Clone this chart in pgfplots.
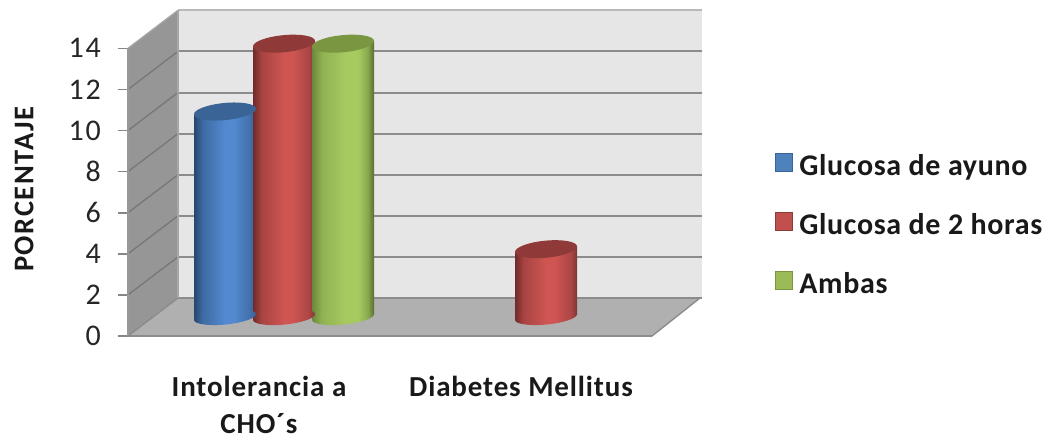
\documentclass[border=0pt]{standalone}
\usepackage{fontspec}
\setmainfont{Carlito}[BoldFont=Carlito Bold]
\usepackage{pgfplots}
\pgfplotsset{compat=1.18}

% Cylinder surfaces: the stops between 25bp and 75bp span the path's width
\definecolor{bA}{RGB}{39,70,110}\definecolor{bB}{RGB}{62,107,163}\definecolor{bC}{RGB}{82,137,208}\definecolor{bD}{RGB}{66,112,170}\definecolor{bE}{RGB}{56,96,146}
\definecolor{rA}{RGB}{112,42,42}\definecolor{rB}{RGB}{168,68,66}\definecolor{rC}{RGB}{206,85,82}\definecolor{rD}{RGB}{170,70,68}\definecolor{rE}{RGB}{128,52,50}
\definecolor{gA}{RGB}{108,134,60}\definecolor{gB}{RGB}{144,178,82}\definecolor{gC}{RGB}{166,202,96}\definecolor{gD}{RGB}{136,168,76}\definecolor{gE}{RGB}{88,110,48}
\pgfdeclarehorizontalshading{cylblue}{100bp}{color(0bp)=(bA);color(25bp)=(bA);color(32bp)=(bB);color(50bp)=(bC);color(57bp)=(bC);color(70bp)=(bD);color(75bp)=(bE);color(100bp)=(bE)}
\pgfdeclarehorizontalshading{cylred}{100bp}{color(0bp)=(rA);color(25bp)=(rA);color(32bp)=(rB);color(50bp)=(rC);color(57bp)=(rC);color(70bp)=(rD);color(75bp)=(rE);color(100bp)=(rE)}
\pgfdeclarehorizontalshading{cylgreen}{100bp}{color(0bp)=(gA);color(25bp)=(gA);color(33bp)=(gB);color(52bp)=(gC);color(62bp)=(gC);color(70bp)=(gD);color(75bp)=(gE);color(100bp)=(gE)}

\definecolor{capblue}{RGB}{58,100,149}
\definecolor{capred}{RGB}{143,58,56}
\definecolor{capgreen}{RGB}{122,150,65}
\definecolor{keyblue}{RGB}{79,129,189}
\definecolor{keyred}{RGB}{192,80,77}
\definecolor{keygreen}{RGB}{155,187,89}
\definecolor{wallback}{RGB}{230,230,230}
\definecolor{wallside}{RGB}{150,150,150}
\definecolor{floorgray}{RGB}{176,176,176}
\definecolor{gridgray}{RGB}{140,140,140}
\definecolor{tickgray}{RGB}{135,135,135}

% Tilted end caps of the cylinders
\pgfdeclareplotmark{captop}{\pgfpathellipse{\pgfpointorigin}{\pgfqpoint{31pt}{3pt}}{\pgfqpoint{-0.9pt}{8.5pt}}\pgfusepathqfill}
\pgfdeclareplotmark{capblue}{\pgfpathellipse{\pgfpointorigin}{\pgfqpoint{31pt}{3pt}}{\pgfqpoint{-0.7pt}{7.5pt}}\pgfshadepath{cylblue}{0}\pgfusepath{discard}}
\pgfdeclareplotmark{capred}{\pgfpathellipse{\pgfpointorigin}{\pgfqpoint{31pt}{3pt}}{\pgfqpoint{-0.7pt}{7.5pt}}\pgfshadepath{cylred}{0}\pgfusepath{discard}}
\pgfdeclareplotmark{capgreen}{\pgfpathellipse{\pgfpointorigin}{\pgfqpoint{31pt}{3pt}}{\pgfqpoint{-0.7pt}{7.5pt}}\pgfshadepath{cylgreen}{0}\pgfusepath{discard}}

% #1 colour, #2 category, #3 value, #4 sideways offset inside the group
\newcommand{\cylinderbar}[4]{%
  \addplot[only marks, mark=cap#1, xshift={25pt+#4}, yshift=19pt, forget plot]
    coordinates {(#2,0)};
  \addplot[ybar, bar width=62pt, bar shift=0pt, draw=none, shading=cyl#1,
    xshift={25pt+#4}, yshift={(19-0.085*(#2-0.5)*262)*1pt}, yslant=0.085, forget plot]
    coordinates {(#2,#3)};
  \addplot[only marks, mark=captop, mark options={fill=cap#1, draw=none},
    xshift={25pt+#4}, yshift=19pt, forget plot]
    coordinates {(#2,#3)};
}

\begin{document}
\begin{tikzpicture}
\useasboundingbox (-128pt,-104pt) rectangle (920pt,336pt);
\begin{axis}[
  scale only axis, width=524pt, height=287.7pt,
  xmin=0.5, xmax=2.5, ymin=0, ymax=14,
  clip=false,
  axis line style={draw=none},
  ytick={0,2,...,14}, ytick pos=left,
  xtick={1,2},
  xticklabels={{Intolerancia a\\[5pt]CHO´s},{Diabetes Mellitus}},
  xtick style={draw=none},
  ytick style={draw=tickgray, line width=1.6pt},
  tick align=outside, major tick length=10pt,
  /pgf/number format/assume math mode=true,
  yticklabel style={font=\fontsize{30}{30}\selectfont\addfontfeature{LetterSpace=6}, text=black!85, inner sep=0pt, xshift=-17pt},
  xticklabel style={font=\bfseries\fontsize{29}{32}\selectfont\addfontfeature{LetterSpace=3}, text=black!90, align=center, yshift=-30pt, inner sep=0pt},
  ylabel={PORCENTAJE},
  ylabel style={font=\bfseries\fontsize{28.5}{28.5}\selectfont\addfontfeature{LetterSpace=5.5}, text=black!90, at={(axis description cs:-0.198,0.51)}, anchor=center, inner sep=0pt},
  legend cell align=left,
  legend style={at={(rel axis cs:1.2347,0.382)}, anchor=west, draw=none, fill=none, inner sep=0pt,
    font=\bfseries\fontsize{30}{30}\selectfont\addfontfeature{LetterSpace=2.2}, text=black!90, row sep=30.5pt,
    /tikz/every odd column/.append style={column sep=6pt},
    nodes={inner sep=0pt, text height=20pt, text depth=6pt}},
  legend image code/.code={\draw[#1, line width=1.2pt] (0pt,-3pt) rectangle (17pt,15pt);},
]
% Side wall, floor and back wall of the chart box
\addplot[fill=wallback, draw=none, xshift=50pt, yshift=38pt, forget plot]
  coordinates {(0.5,0) (2.5,0) (2.5,14) (0.5,14)} -- cycle;
\addplot[fill=wallside, draw=none, forget plot]
  coordinates {(0.5,0) (0.5,14) (0.6908,15.85) (0.6908,1.85)} -- cycle;
\addplot[fill=floorgray, draw=none, forget plot]
  coordinates {(0.5,0) (2.5,0) (2.6832,1.85) (0.6908,1.85)} -- cycle;

% Grid lines running along the back wall
\pgfplotsinvokeforeach{2,4,...,12}{
  \addplot[draw=gridgray, line width=2pt, xshift=50pt, yshift=38pt, forget plot]
    coordinates {(0.5,#1) (2.5,#1)};
}
\addplot[draw=gray!55, line width=2pt, xshift=50pt, yshift=38pt, forget plot]
  coordinates {(0.5,14) (2.5,14)};
\addplot[draw=gridgray, line width=1.4pt, xshift=50pt, yshift=38pt, forget plot]
  coordinates {(0.5,0) (2.5,0)};
% and continuing across the side wall
\pgfplotsinvokeforeach{2,4,...,12}{
  \addplot[draw=gridgray!85!black, line width=1.3pt, forget plot]
    coordinates {(0.5,#1) (0.6908,{#1+1.85})};
}
\addplot[draw=gray!70, line width=1.3pt, forget plot]
  coordinates {(0.5,14) (0.6908,15.85)};
\addplot[draw=gridgray, line width=1.4pt, forget plot]
  coordinates {(0.5,0) (0.6908,1.85)};
\addplot[draw=gray!70, line width=1.3pt, forget plot]
  coordinates {(0.6908,1.85) (0.6908,15.85)};
\addplot[draw=gray!80, line width=1.3pt, forget plot]
  coordinates {(0.5,0) (0.5,14)};
\addplot[draw=gridgray, line width=1.8pt, forget plot]
  coordinates {(0.5,0) (2.5,0)};
\addplot[draw=gridgray, line width=1.4pt, forget plot]
  coordinates {(2.5,0) (2.6832,1.85)};

% Intolerancia a CHO´s
\cylinderbar{blue}{1}{10}{-59pt}
\cylinderbar{red}{1}{13.3}{0pt}
\cylinderbar{green}{1}{13.3}{59pt}
% Diabetes Mellitus
\cylinderbar{red}{2}{3.3}{0pt}

\addlegendimage{fill=keyblue, draw=capblue}
\addlegendimage{fill=keyred, draw=capred}
\addlegendimage{fill=keygreen, draw=capgreen}
\legend{Glucosa de ayuno,Glucosa de 2 horas,Ambas}
\end{axis}
\end{tikzpicture}
\end{document}
